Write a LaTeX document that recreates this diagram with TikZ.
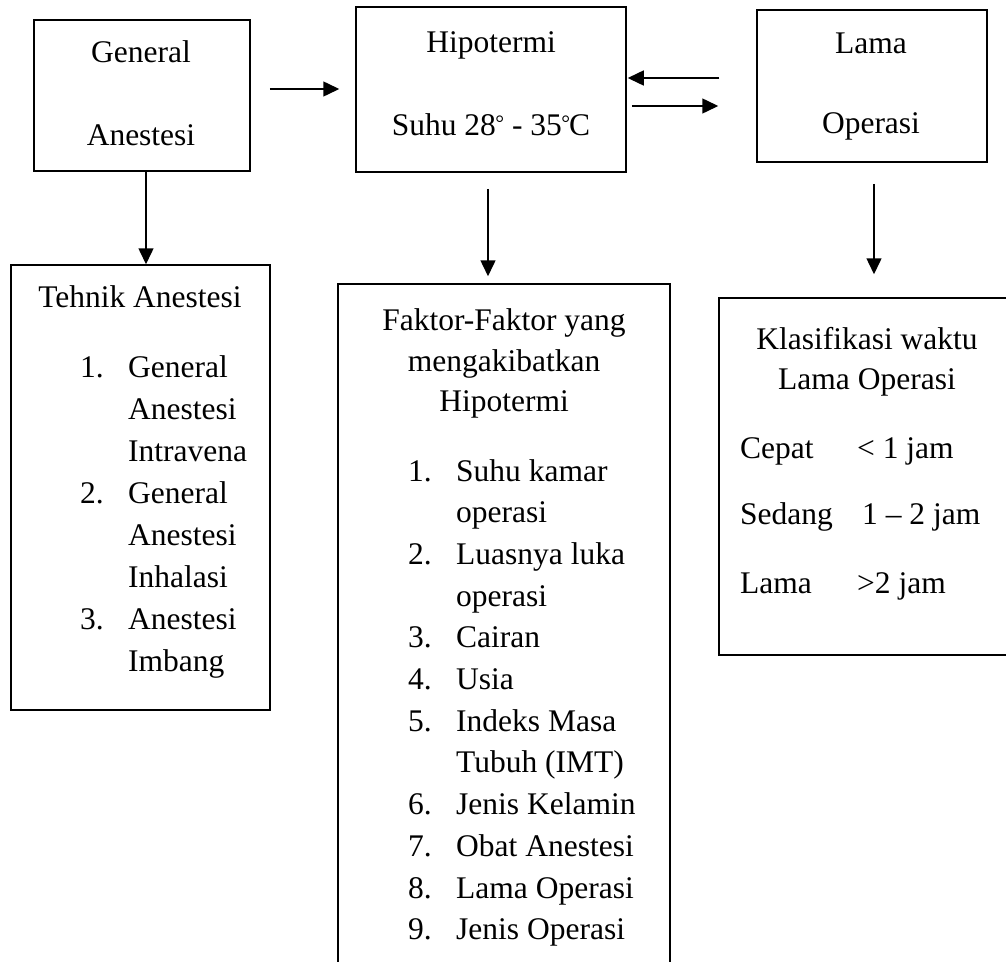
\documentclass[tikz,border=0pt]{standalone}
\usepackage{fontspec}
\setmainfont{Liberation Serif}
\usetikzlibrary{arrows.meta,calc}
\newcommand{\smalldeg}{\raisebox{5pt}{\fontsize{22}{22}\selectfont °}}
\begin{document}
\begin{tikzpicture}[x=1pt,y=-1pt,
  box/.style={draw, line width=1.5pt, inner sep=0pt},
  txt/.style={font=\fontsize{31.5}{38}\selectfont, inner sep=0pt, anchor=base},
  ltxt/.style={txt, anchor=base west},
  arr/.style={line width=1.5pt, -{Triangle[length=16pt,width=15pt]}}]
\useasboundingbox (0,0) rectangle (1006,961);
% boxes
\node[box, minimum width=216pt, minimum height=151pt] (ga) at (142,95.5) {};
\node[box, minimum width=270pt, minimum height=165pt] (hipo) at (491,89.5) {};
\node[box, minimum width=230pt, minimum height=152pt] (lama) at (872,86) {};
\node[box, minimum width=259pt, minimum height=445pt] (teh) at (140.5,487.5) {};
\node[box, minimum width=332pt, minimum height=716pt] (fak) at (504,642) {};
\node[box, minimum width=321pt, minimum height=357pt] (klas) at (879.5,476.5) {};
% texts in top boxes
\node[txt] (gaA) at (141,62) {General};
\node[txt] (gaB) at (141,145) {Anestesi};
\node[txt] (hiA) at (491,52) {Hipotermi};
\node[txt] (hiB) at (491,135) {Suhu 28\kern-0.5pt\smalldeg\ - 35\kern-0.5pt\smalldeg\kern-1pt C};
\node[txt] (laA) at (871,53) {Lama};
\node[txt] (laB) at (871,133) {Operasi};
% Tehnik Anestesi
\node[txt] (tehH) at (140,307) {Tehnik Anestesi};
\foreach \t [count=\i from 0] in {General, Anestesi, Intravena, General, Anestesi, Inhalasi, Anestesi, Imbang}
  \node[ltxt] (tt\i) at (128,{377+42*\i}) {\t};
\foreach \n/\k in {1/0, 2/3, 3/6}
  \node[ltxt] (tn\n) at (80,{377+42*\k}) {\n.};
% Faktor
\node[txt] (fkA) at (504,330) {Faktor-Faktor yang};
\node[txt] (fkB) at (504,371) {mengakibatkan};
\node[txt] (fkC) at (504,411) {Hipotermi};
\foreach \t [count=\i from 0] in {Suhu kamar, operasi, Luasnya luka, operasi, Cairan, Usia, Indeks Masa, Tubuh (IMT), Jenis Kelamin, Obat Anestesi, Lama Operasi, Jenis Operasi}
  \node[ltxt] (ft\i) at (456,{481+41.7*\i}) {\t};
\foreach \n/\k in {1/0, 2/2, 3/4, 4/5, 5/6, 6/8, 7/9, 8/10, 9/11}
  \node[ltxt] (fn\n) at (408,{481+41.7*\k}) {\n.};
% Klasifikasi
\node[txt] (klA) at (867,349) {Klasifikasi waktu};
\node[txt] (klB) at (867,389) {Lama Operasi};
\node[ltxt] (kc1) at (740,458) {Cepat};
\node[ltxt] (kc2) at (857,458) {< 1 jam};
\node[ltxt] (ks1) at (740,524) {Sedang};
\node[ltxt] (ks2) at (862,524) {1 – 2 jam};
\node[ltxt] (kl1) at (740,593) {Lama};
\node[ltxt] (kl2) at (857,593) {>2 jam};
% connector helpers
\coordinate (a1) at (146,0);
\coordinate (a2) at (0,89);
\coordinate (a3) at (0,78);
\coordinate (a4) at (0,106);
\coordinate (a5) at (488,0);
\coordinate (a6) at (874,0);
% connectors
\draw[arr] (ga.south -| a1) -- (teh.north -| a1);
\draw[arr, shorten <=19pt, shorten >=16pt] (ga.east |- a2) -- (hipo.west |- a2);
\draw[arr, shorten <=37pt, shorten >=1pt] (lama.west |- a3) -- (hipo.east |- a3);
\draw[arr, shorten <=5pt, shorten >=38pt] (hipo.east |- a4) -- (lama.west |- a4);
\draw[arr, shorten <=16pt, shorten >=7pt] (hipo.south -| a5) -- (fak.north -| a5);
\draw[arr, shorten <=21pt, shorten >=23pt] (lama.south -| a6) -- (klas.north -| a6);
\end{tikzpicture}
\end{document}
